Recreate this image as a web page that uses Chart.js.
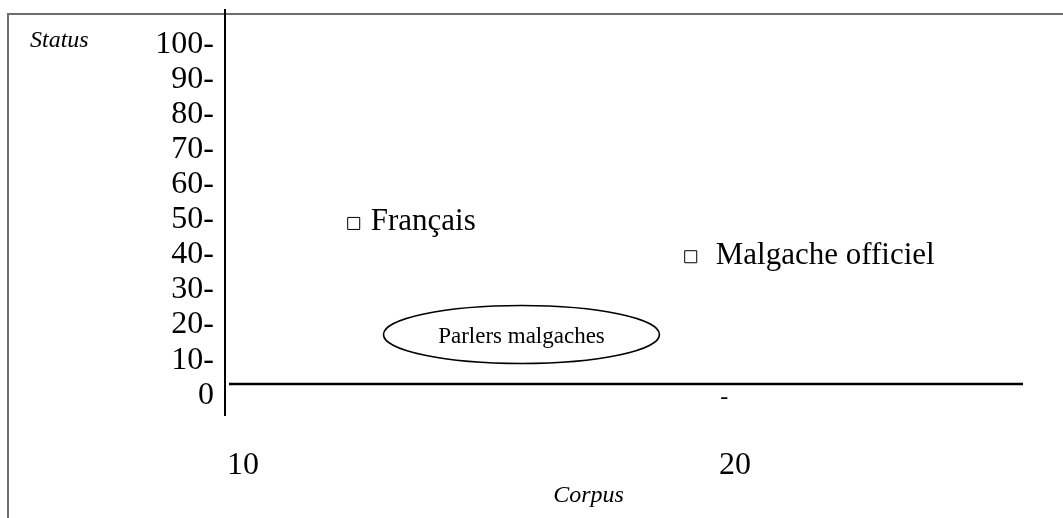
<!DOCTYPE html>
<html>
<head>
<meta charset="utf-8">
<script src="https://cdn.jsdelivr.net/npm/chart.js@4.4.1/dist/chart.umd.min.js"></script>
<style>
  html, body { margin: 0; padding: 0; background: #fff; }
  canvas { display: block; }
</style>
</head>
<body>
<canvas id="statuschart" width="1063" height="518"></canvas>
<script>
// data
const pointNames = ["Français", "Malgache officiel"];
const corpusValues = [12.25, 19.1];
const statusValues = [49, 39.5];

const groupName = "Parlers malgaches";
const groupCorpus = [15.66];
const groupStatus = [17.3];

const yTickValues = [0, 10, 20, 30, 40, 50, 60, 70, 80, 90, 100];
const xTickValues = [10, 20];
const baselineStatus = 3.2;
const strayMark = { x: 19.78, y: -0.85, text: "-" };

const serif = "'Liberation Serif', 'Times New Roman', serif";

const drawingPlugin = {
  id: "drawing",
  beforeDraw(chart) {
    const c = chart.ctx;
    c.save();
    c.fillStyle = "#fff";
    c.fillRect(0, 0, chart.width, chart.height);
    // grey frame
    c.strokeStyle = "#6e6e6e";
    c.lineWidth = 2;
    c.beginPath();
    c.moveTo(8, 518);
    c.lineTo(8, 14);
    c.lineTo(1063, 14);
    c.stroke();
    c.restore();
  },
  afterDatasetsDraw(chart) {
    const c = chart.ctx;
    const xs = chart.scales.x;
    const ys = chart.scales.y;
    const area = chart.chartArea;
    c.save();

    // horizontal line
    c.strokeStyle = "#000";
    c.lineWidth = 2.5;
    const by = ys.getPixelForValue(baselineStatus);
    c.beginPath();
    c.moveTo(area.left + 4, by);
    c.lineTo(area.right, by);
    c.stroke();

    // point labels
    c.fillStyle = "#000";
    c.font = "31px " + serif;
    c.textAlign = "left";
    c.textBaseline = "alphabetic";
    const gaps = [17, 25];
    pointNames.forEach((name, i) => {
      const px = xs.getPixelForValue(corpusValues[i]);
      const py = ys.getPixelForValue(statusValues[i]);
      c.fillText(name, px + gaps[i], py + 7);
    });

    // ellipse group
    groupCorpus.forEach((gx, i) => {
      const cx = xs.getPixelForValue(gx);
      const cy = ys.getPixelForValue(groupStatus[i]);
      c.lineWidth = 1.6;
      c.beginPath();
      c.ellipse(cx, cy, 138, 29, 0, 0, Math.PI * 2);
      c.stroke();
      c.font = "23px " + serif;
      c.textAlign = "center";
      c.fillText(groupName, cx, cy + 8.5);
    });

    // stray dash under the line
    c.font = "24px " + serif;
    c.textAlign = "center";
    c.fillText(strayMark.text, xs.getPixelForValue(strayMark.x), ys.getPixelForValue(strayMark.y) + 6);

    // axis names
    c.font = "italic 24px " + serif;
    c.textAlign = "left";
    c.fillText("Status", 30, 46.5);
    c.textAlign = "center";
    c.fillText("Corpus", 588.5, 501.5);
    c.restore();
  }
};

const noPad = (axis) => {
  axis.paddingTop = 0;
  axis.paddingBottom = 0;
  axis.paddingLeft = 0;
  axis.paddingRight = 0;
};

const ctx = document.getElementById("statuschart").getContext("2d");
const statuschart = new Chart(ctx, {
  type: "scatter",
  data: {
    datasets: [
      {
        label: "Langues",
        data: corpusValues.map((v, i) => ({ x: v, y: statusValues[i] })),
        pointStyle: "rect",
        pointRadius: 8.5,
        pointBackgroundColor: "#fff",
        pointBorderColor: "#000",
        pointBorderWidth: 1,
      },
    ],
  },
  options: {
    responsive: false,
    animation: false,
    events: [],
    layout: { padding: { left: 0, top: 6, right: 40, bottom: 0 } },
    plugins: {
      legend: { display: false },
      tooltip: { enabled: false },
    },
    scales: {
      x: {
        type: "linear",
        min: 9.634,
        max: 25.854,
        afterBuildTicks: (axis) => { axis.ticks = xTickValues.map((v) => ({ value: v })); },
        afterFit: (axis) => { axis.height = 103; noPad(axis); },
        grid: { display: false, drawTicks: false },
        border: { display: false },
        ticks: {
          color: "#000",
          padding: 31,
          maxRotation: 0,
          autoSkip: false,
          font: { family: serif, size: 32 },
          callback: (v) => String(v),
        },
      },
      y: {
        type: "linear",
        min: -5.66,
        max: 110.04,
        afterBuildTicks: (axis) => { axis.ticks = yTickValues.map((v) => ({ value: v })); },
        afterFit: (axis) => { axis.width = 225; noPad(axis); },
        grid: { display: false, drawTicks: false },
        border: { display: true, color: "#000", width: 2 },
        ticks: {
          color: "#000",
          padding: 11,
          autoSkip: false,
          font: { family: serif, size: 32 },
          callback: (v) => (v === 0 ? "0" : v + "-"),
        },
      },
    },
  },
  plugins: [drawingPlugin],
});
</script>
</body>
</html>
